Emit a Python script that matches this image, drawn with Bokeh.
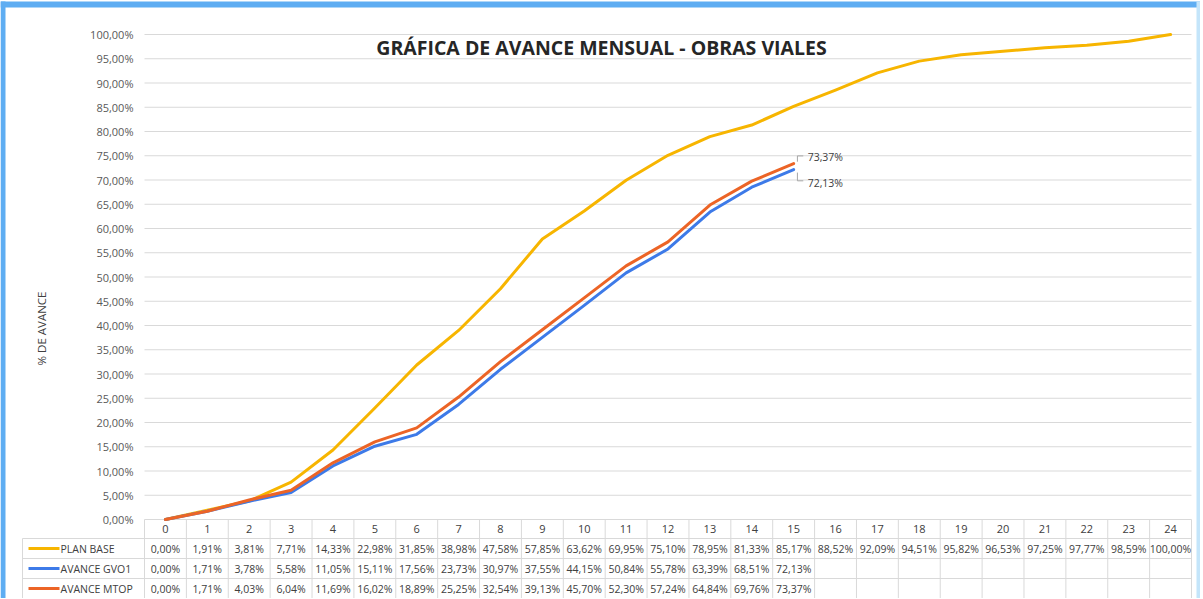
import math
from bokeh.plotting import figure
from bokeh.models import Range1d, FixedTicker, CustomJSTickFormatter, Label
from bokeh.core.properties import value
from bokeh.embed import file_html
from bokeh.resources import INLINE

# ---------------- data ----------------
months = list(range(25))
plan_base = [0.00, 1.91, 3.81, 7.71, 14.33, 22.98, 31.85, 38.98, 47.58, 57.85, 63.62, 69.95,
             75.10, 78.95, 81.33, 85.17, 88.52, 92.09, 94.51, 95.82, 96.53, 97.25, 97.77, 98.59, 100.00]
avance_gvo1 = [0.00, 1.71, 3.78, 5.58, 11.05, 15.11, 17.56, 23.73, 30.97, 37.55, 44.15, 50.84,
               55.78, 63.39, 68.51, 72.13]
avance_mtop = [0.00, 1.71, 4.03, 6.04, 11.69, 16.02, 18.89, 25.25, 32.54, 39.13, 45.70, 52.30,
               57.24, 64.84, 69.76, 73.37]
series_names = ["PLAN BASE", "AVANCE GVO1", "AVANCE MTOP"]
y_ticks = list(range(0, 101, 5))
title_text = "GRÁFICA DE AVANCE MENSUAL - OBRAS VIALES"
y_label = "% DE AVANCE"

# ---------------- style ----------------
colors = ["#F7B500", "#3D7AE8", "#EC6426"]
FONT = "Open Sans"
TXT = "#404040"
GRID = "#D9D9D9"
FRAME_BLUE = "#5EADF2"
FRAME_LIGHT = "#C4E5FA"


def fmt(v):
    return ("%.2f" % v).replace(".", ",") + "%"


series = [plan_base, avance_gvo1, avance_mtop]

# layout in pixels (the plotting frame covers the whole canvas)
W, H = 1200, 598
TABLE_LEFT = 22          # left edge of the data table legend column
PLOT_LEFT = 144          # x pixel of the left edge of the plotting band
PLOT_RIGHT = 1191        # x pixel of the right edge of the plotting band
ZERO_Y, HUND_Y = 519, 34 # pixel rows of 0 % and 100 %
HEAD_H, ROW_H = 19, 20   # table row heights

x0, x1 = -0.5, 24.5
ppu = (PLOT_RIGHT - PLOT_LEFT) / (x1 - x0)   # px per month
ppy = (ZERO_Y - HUND_Y) / 100.0              # px per percent


def dx(px):
    return x0 + (px - PLOT_LEFT) / ppu


def dy(py):
    return (ZERO_Y - py) / ppy


p = figure(width=W, height=H, x_range=Range1d(dx(0), dx(W)), y_range=Range1d(dy(H), dy(0)),
           output_backend="svg", toolbar_location=None, x_axis_location=None,
           min_border_left=0, min_border_right=0, min_border_top=0, min_border_bottom=0)
p.outline_line_color = None
p.grid.visible = False

# screenshot frame (blue border of the original image)
p.quad(left=[dx(0), dx(0), dx(1196)], right=[dx(W), dx(5), dx(W)],
       top=[dy(1), dy(1), dy(1)], bottom=[dy(7), dy(H), dy(H)],
       fill_color=[FRAME_BLUE, FRAME_BLUE, FRAME_LIGHT], line_color=None)

# y axis drawn at the left edge of the plotting band
ax = p.yaxis[0]
ax.fixed_location = x0
ax.ticker = FixedTicker(ticks=y_ticks)
ax.formatter = CustomJSTickFormatter(code="return tick.toFixed(2).replace('.', ',') + '%';")
ax.axis_line_color = None
ax.major_tick_line_color = None
ax.minor_tick_line_color = None
ax.major_tick_out = 0
ax.major_tick_in = 0
ax.minor_tick_out = 0
ax.major_label_text_font = FONT
ax.major_label_text_font_size = "11px"
ax.major_label_text_color = "#595959"
ax.major_label_standoff = 11

# y axis title
p.text(x=[dx(41)], y=[dy(328)], text=[y_label], angle=math.pi / 2,
       text_font=value(FONT), text_font_size="11.5px", text_color=TXT,
       text_align="center", text_baseline="middle")

# horizontal gridlines of the chart area
p.segment(x0=[x0] * len(y_ticks), y0=y_ticks, x1=[x1] * len(y_ticks), y1=y_ticks,
          line_color=GRID, line_width=1)

# ---------------- data table (below the 0 % line) ----------------
row_edges = [0, -HEAD_H / ppy]
for _ in series:
    row_edges.append(row_edges[-1] - ROW_H / ppy)
head_c = (row_edges[0] + row_edges[1]) / 2
row_c = [(row_edges[i + 1] + row_edges[i + 2]) / 2 for i in range(len(series))]
y_bot = dy(H)
xs = dx(TABLE_LEFT)

vx = [m - 0.5 for m in months] + [x1]
p.segment(x0=vx, y0=[0] * len(vx), x1=vx, y1=[y_bot] * len(vx), line_color=GRID, line_width=1)
p.segment(x0=[xs], y0=[row_edges[1]], x1=[xs], y1=[y_bot], line_color=GRID, line_width=1)
hy = row_edges[1:-1]
p.segment(x0=[xs] * len(hy), y0=hy, x1=[x1] * len(hy), y1=hy, line_color=GRID, line_width=1)

p.text(x=months, y=[head_c] * len(months), text=[str(m) for m in months],
       text_font=value(FONT), text_font_size="11px", text_color=TXT,
       text_align="center", text_baseline="middle")

for i, (vals, name, c) in enumerate(zip(series, series_names, colors)):
    yc = row_c[i]
    p.text(x=months[:len(vals)], y=[yc] * len(vals), text=[fmt(v) for v in vals],
           text_font=value(FONT), text_font_size="10.5px", text_color=TXT,
           text_align="center", text_baseline="middle")
    p.line([dx(28), dx(59)], [yc, yc], line_color=c, line_width=3)
    p.text(x=[dx(60)], y=[yc], text=[name],
           text_font=value(FONT), text_font_size="10.5px", text_color=TXT,
           text_align="left", text_baseline="middle")

# ---------------- series lines ----------------
for vals, c in zip(series, colors):
    p.line(months[:len(vals)], vals, line_color=c, line_width=3, line_join="round", line_cap="round")

# data labels with leader lines for the last actual values
lead = [(avance_mtop, 0.4, 1.6, -7), (avance_gvo1, -0.6, -2.3, 13)]
for vals, d0, d1, yoff in lead:
    xl = len(vals) - 1
    yl = vals[-1]
    p.line([xl + 0.09, xl + 0.09, xl + 0.23], [yl + d0, yl + d1, yl + d1],
           line_color="#A6A6A6", line_width=1)
    p.text(x=[xl], y=[yl], text=[fmt(yl)], x_offset=14, y_offset=yoff,
           text_font=value(FONT), text_font_size="10.5px", text_color=TXT,
           text_baseline="middle", text_align="left")

# chart title
p.add_layout(Label(x=dx(601), y=dy(47), text=title_text,
                   text_font=FONT, text_font_size="19.5px", text_font_style="bold",
                   text_color="#262626", text_align="center", text_baseline="middle"))

open("out.html", "w").write(file_html(p, INLINE))
